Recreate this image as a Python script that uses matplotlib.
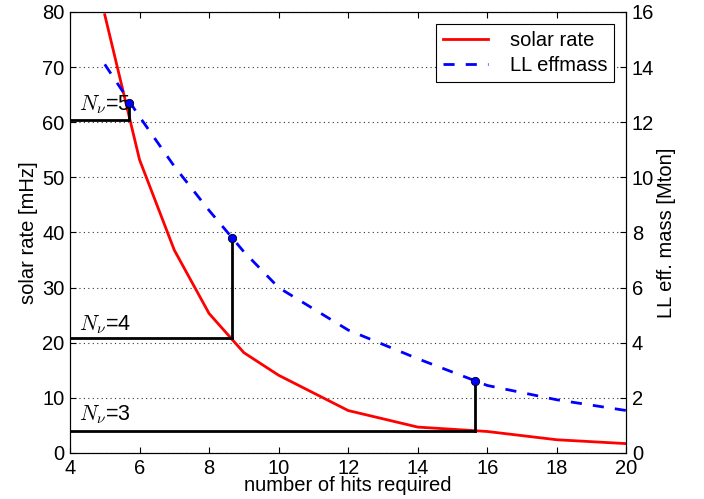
import numpy as np
import matplotlib
matplotlib.use("Agg")
from matplotlib import pyplot as plt

plt.rcParams['font.family'] = ['Liberation Sans', 'DejaVu Sans']
plt.rcParams['mathtext.fontset'] = 'cm'

# hits required vs solar rate [mHz]
hits = [5, 6, 7, 8, 9, 10, 12, 14, 16, 18, 20]
solar_rate = [79.5, 53.2, 36.8, 25.3, 18.2, 14.1, 7.7, 4.7, 3.9, 2.4, 1.7]
# LL effective mass [Mton]
effmass = [14.1, 12.2, 10.4, 8.8, 7.3, 6.0, 4.46, 3.42, 2.45, 1.93, 1.54]

# N_nu thresholds: hits, solar rate level, effmass at marker
nu_labels = ['5', '4', '3']
nu_hits = [5.7, 8.65, 15.65]
nu_rate = [60.4, 20.9, 4.0]
nu_mass = [12.68, 7.8, 2.62]
nu_text_y = [62.2, 22.3, 6.0]

fig = plt.figure(figsize=(7.04, 4.99), dpi=100)
ax = fig.add_axes([0.0994, 0.0922, 0.7904, 0.8838])
ax2 = ax.twinx()

l1, = ax.plot(hits, solar_rate, '-', color='red', lw=2, label='solar rate')
l2, = ax2.plot(hits, effmass, '--', color='blue', lw=2, dashes=(4, 4), label='LL effmass')

# threshold brackets
for lab, xh, yr, ym, ty in zip(nu_labels, nu_hits, nu_rate, nu_mass, nu_text_y):
    ax.plot([4, xh], [yr, yr], '-', color='black', lw=2, zorder=3)
    ax.plot([xh, xh], [yr, ym * 5], '-', color='black', lw=2, zorder=3)
    ax2.plot([xh], [ym], 'o', color='blue', mec='black', mew=0.6, ms=6, zorder=4)
    ax.text(4.25, ty, r'$N_\nu$=' + lab, fontsize=15.5, va='baseline', ha='left')

ax.set_xlim(4, 20)
ax.set_ylim(0, 80)
ax2.set_ylim(0, 16)
ax.set_xticks(np.arange(4, 21, 2))
ax.set_yticks(np.arange(0, 81, 10))
ax2.set_yticks(np.arange(0, 17, 2))

ax.yaxis.grid(True, linestyle=(0, (1, 3)), color='#333333', lw=0.8)
ax.set_axisbelow(True)

ax.tick_params(direction='in', labelsize=14.5, top=True, length=4, pad=4)
ax2.tick_params(direction='in', labelsize=14.5, length=4, pad=4)

ax.set_xlabel('number of hits required', fontsize=14.5, labelpad=-1)
ax.set_ylabel('solar rate [mHz]', fontsize=14.5, labelpad=3)
ax2.set_ylabel('LL eff. mass [Mton]', fontsize=14.5, labelpad=2)

leg = ax2.legend([l1, l2], ['solar rate', 'LL effmass'], loc='upper right',
                 fontsize=14.5, fancybox=False, edgecolor='black', framealpha=1,
                 handlelength=2.2, handletextpad=1.1, borderaxespad=0.6,
                 borderpad=0.35, labelspacing=0.3)
leg.get_frame().set_linewidth(0.8)

fig.savefig('out.png', dpi=100)
